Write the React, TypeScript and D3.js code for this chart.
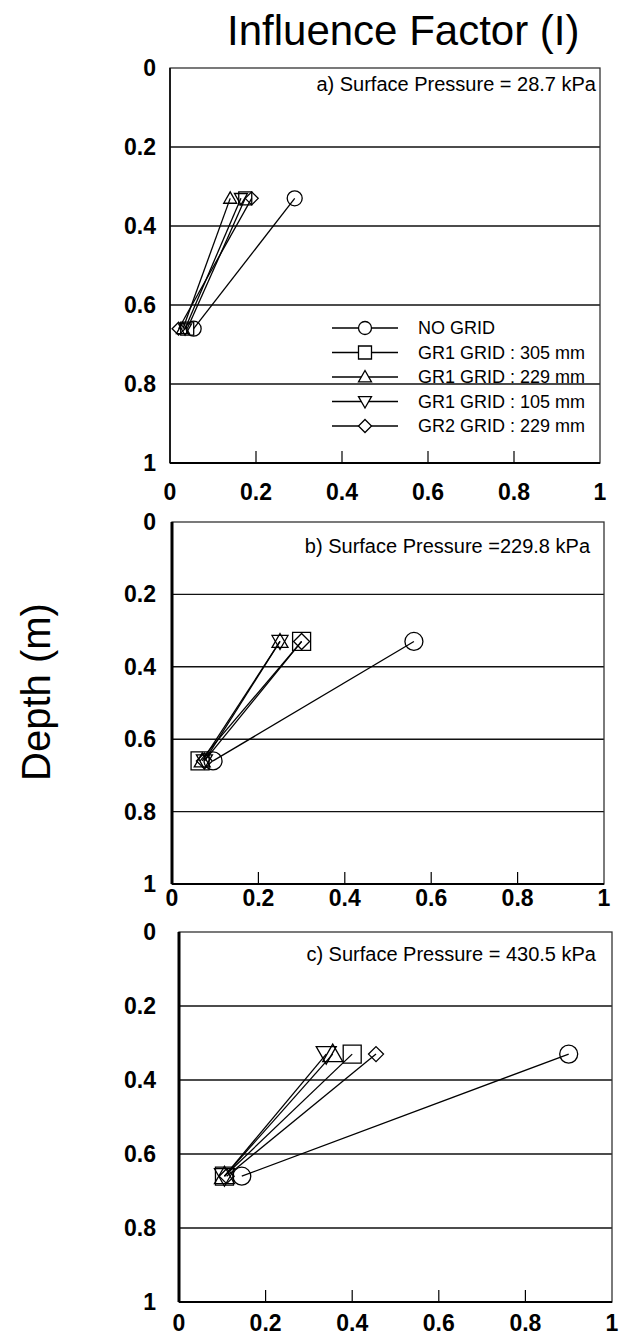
import React, { useEffect, useRef } from "react";
import * as d3 from "d3";

// data
const seriesNames = ["NO GRID", "GR1 GRID : 305 mm", "GR1 GRID : 229 mm", "GR1 GRID : 105 mm", "GR2 GRID : 229 mm"];
const markerTypes = ["circle", "square", "triangle", "triangleDown", "diamond"];
const depths = [0.33, 0.66];
const xTicks = [0, 0.2, 0.4, 0.6, 0.8, 1];
const yTicks = [0, 0.2, 0.4, 0.6, 0.8, 1];
const panelTitles = ["a) Surface Pressure = 28.7 kPa", "b) Surface Pressure =229.8 kPa", "c) Surface Pressure = 430.5 kPa"];
// influence factor at [0.33 m, 0.66 m] for each series
const influenceA = [[0.29, 0.055], [0.175, 0.04], [0.14, 0.03], [0.165, 0.035], [0.19, 0.02]];
const influenceB = [[0.56, 0.095], [0.3, 0.065], [0.25, 0.07], [0.25, 0.075], [0.3, 0.075]];
const influenceC = [[0.9, 0.145], [0.4, 0.105], [0.355, 0.105], [0.34, 0.105], [0.455, 0.11]];

const FONT = "'Liberation Sans', Arial, sans-serif";

function markerPath(type: string, s: number) {
  if (type == "circle") return d3.arc()({ innerRadius: 0, outerRadius: s, startAngle: 0, endAngle: 2 * Math.PI } as any) as string;
  if (type == "square") return `M${-s},${-s}H${s}V${s}H${-s}Z`;
  if (type == "triangle") return `M0,${-s}L${s},${s * 0.75}L${-s},${s * 0.75}Z`;
  if (type == "triangleDown") return `M0,${s}L${s},${-s * 0.75}L${-s},${-s * 0.75}Z`;
  return `M0,${-s}L${s},0L0,${s}L${-s},0Z`;
}

export default function App() {
  const ref = useRef<SVGSVGElement>(null);

  useEffect(() => {
    const svg = d3.select(ref.current);
    svg.selectAll("*").remove();

    // titles
    svg.append("text").attr("x", 227).attr("y", 45)
      .style("font-family", FONT).style("font-size", "42px").text("Influence Factor (I)");
    svg.append("text").attr("transform", "translate(50,692) rotate(-90)")
      .attr("text-anchor", "middle")
      .style("font-family", FONT).style("font-size", "40px").text("Depth (m)");

    const panels = [
      { data: influenceA, left: 170, right: 600, top: 68, bottom: 463, labY: 500, labX: 156, axisW: 1.5, ms: [7.5, 6.5, 6.5, 6.5, 6.5], titleY: 91, titleX: 596 },
      { data: influenceB, left: 172, right: 604, top: 522, bottom: 884, labY: 906, labX: 156, axisW: 3, ms: [9, 9, 8, 8, 8], titleY: 553, titleX: 590 },
      { data: influenceC, left: 179, right: 612, top: 932, bottom: 1302, labY: 1331, labX: 156, axisW: 3, ms: [9, 9, 10, 10, 7.5], titleY: 961, titleX: 596 },
    ];

    panels.forEach((p, pi) => {
      const x = d3.scaleLinear().domain([0, 1]).range([p.left, p.right]);
      const y = d3.scaleLinear().domain([0, 1]).range([p.top, p.bottom]);
      const g = svg.append("g");

      // gridlines
      g.selectAll(".grid").data(yTicks.slice(1, -1)).enter().append("line")
        .attr("x1", p.left).attr("x2", p.right)
        .attr("y1", d => y(d)).attr("y2", d => y(d))
        .attr("stroke", "#111").attr("stroke-width", 1.4);

      // frame
      g.append("rect").attr("x", p.left).attr("y", p.top)
        .attr("width", p.right - p.left).attr("height", p.bottom - p.top)
        .attr("fill", "none").attr("stroke", "#333").attr("stroke-width", 1.3);
      g.append("line").attr("x1", p.left).attr("x2", p.left).attr("y1", p.top).attr("y2", p.bottom)
        .attr("stroke", "#000").attr("stroke-width", p.axisW);
      g.append("line").attr("x1", p.left).attr("x2", p.right).attr("y1", p.bottom).attr("y2", p.bottom)
        .attr("stroke", "#000").attr("stroke-width", 2);

      // bottom tick marks
      g.selectAll(".tick").data(xTicks.slice(1, -1)).enter().append("line")
        .attr("x1", d => x(d)).attr("x2", d => x(d))
        .attr("y1", p.bottom).attr("y2", p.bottom - 12)
        .attr("stroke", "#000").attr("stroke-width", 1.2);

      // tick labels
      g.selectAll(".xl").data(xTicks).enter().append("text")
        .attr("x", d => x(d)).attr("y", p.labY).attr("text-anchor", "middle")
        .style("font-family", FONT).style("font-size", "23px").style("font-weight", "bold")
        .text(d => String(d));
      g.selectAll(".yl").data(yTicks).enter().append("text")
        .attr("x", p.labX).attr("y", d => y(d) + 8).attr("text-anchor", "end")
        .style("font-family", FONT).style("font-size", "23px").style("font-weight", "bold")
        .text(d => String(d));

      // panel title
      g.append("text").attr("x", p.titleX).attr("y", p.titleY).attr("text-anchor", "end")
        .style("font-family", FONT).style("font-size", "20px").text(panelTitles[pi]);

      // series
      const line = d3.line<number[]>().x(d => x(d[0])).y(d => y(d[1]));
      p.data.forEach((vals, si) => {
        const pts = vals.map((v, k) => [v, depths[k]]);
        g.append("path").attr("d", line(pts) as string)
          .attr("fill", "none").attr("stroke", "#000").attr("stroke-width", 1.3);
        pts.forEach(pt => {
          g.append("path").attr("d", markerPath(markerTypes[si], p.ms[si]))
            .attr("transform", `translate(${x(pt[0])},${y(pt[1])})`)
            .attr("fill", "none").attr("stroke", "#000").attr("stroke-width", 1.3);
        });
      });

      // legend in first panel
      if (pi == 0) {
        seriesNames.forEach((name, si) => {
          const ly = 328 + si * 24.5;
          g.append("line").attr("x1", 332).attr("x2", 398).attr("y1", ly).attr("y2", ly)
            .attr("stroke", "#000").attr("stroke-width", 1.3);
          g.append("path").attr("d", markerPath(markerTypes[si], 6.5))
            .attr("transform", `translate(365,${ly})`)
            .attr("fill", "#fff").attr("stroke", "#000").attr("stroke-width", 1.3);
          g.append("text").attr("x", 418).attr("y", ly + 6)
            .style("font-family", FONT).style("font-size", "18px").text(name);
        });
      }
    });
  }, []);

  return (
    <div style={{ position: "absolute", left: 0, top: 0, background: "#fff" }}>
      <svg ref={ref} width={627} height={1336} style={{ display: "block" }}></svg>
    </div>
  );
}
